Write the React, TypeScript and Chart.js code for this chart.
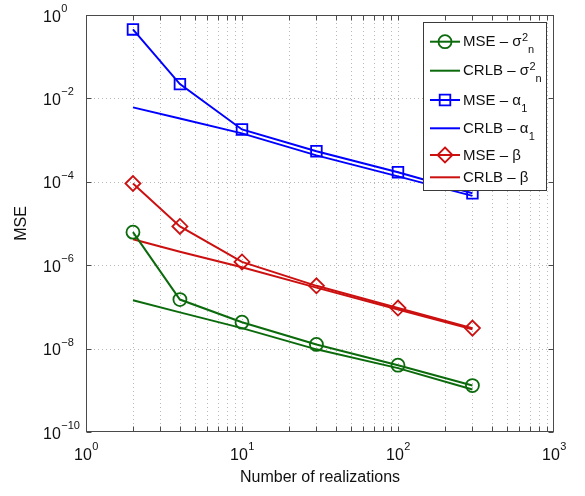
import React, { useEffect, useRef } from 'react';
import { Chart, registerables } from 'chart.js';

Chart.register(...registerables);

// ---- data ----
const realizations = [2, 4, 10, 30, 100, 300];
const mseSigma = [6.2e-6, 1.5e-7, 4.3e-8, 1.26e-8, 4.0e-9, 1.3e-9];
const crlbSigma = [1.45e-7, 7.4e-8, 3.1e-8, 9.6e-9, 3.4e-9, 1.05e-9];
const mseAlpha = [0.45, 2.2e-2, 1.8e-3, 5.4e-4, 1.7e-4, 5.3e-5];
const crlbAlpha = [6.1e-3, 3.3e-3, 1.45e-3, 4.3e-4, 1.35e-4, 4.6e-5];
const mseBeta = [9.1e-5, 8.5e-6, 1.2e-6, 3.2e-7, 9.4e-8, 3.1e-8];
const crlbBeta = [4.2e-6, 2.1e-6, 8.9e-7, 2.9e-7, 8.7e-8, 2.9e-8];

const xTickExponents = [0, 1, 2, 3];
const yTickExponents = [0, -2, -4, -6, -8, -10];
const xTitle = 'Number of realizations';
const yTitle = 'MSE';

const legendBase = ['MSE – σ', 'CRLB – σ', 'MSE – α', 'CRLB – α', 'MSE – β', 'CRLB – β'];
const legendSup = ['2', '2', '', '', '', ''];
const legendSub = ['n', 'n', '1', '1', '', ''];

const GREEN = '#0b6a0b';
const BLUE = '#0000ff';
const RED = '#cc1010';
const FONT = '"Liberation Sans", Arial, Helvetica, sans-serif';

const seriesColors = [GREEN, GREEN, BLUE, BLUE, RED, RED];
const seriesMarkers = ['circle', '', 'rect', '', 'rectRot', ''];
const seriesValues = [mseSigma, crlbSigma, mseAlpha, crlbAlpha, mseBeta, crlbBeta];

function markerRadius(m: string) {
  if (m === 'circle') return 6.5;
  if (m === 'rect') return 7.5;
  if (m === 'rectRot') return 7.5;
  return 0;
}

function drawMarker(ctx: CanvasRenderingContext2D, m: string, x: number, y: number, color: string) {
  ctx.save();
  ctx.strokeStyle = color;
  ctx.lineWidth = 1.8;
  ctx.setLineDash([]);
  ctx.beginPath();
  if (m === 'circle') {
    ctx.arc(x, y, 6.5, 0, Math.PI * 2);
  } else if (m === 'rect') {
    const s = 7.5 * Math.SQRT1_2;
    ctx.rect(x - s, y - s, 2 * s, 2 * s);
  } else if (m === 'rectRot') {
    const r = 7.5;
    ctx.moveTo(x, y - r);
    ctx.lineTo(x + r, y);
    ctx.lineTo(x, y + r);
    ctx.lineTo(x - r, y);
    ctx.closePath();
  }
  ctx.stroke();
  ctx.restore();
}

function expText(e: number) {
  return e < 0 ? '\u2212' + Math.abs(e) : String(e);
}

const framePlugin = {
  id: 'matlabFrame',
  beforeDatasetsDraw(chart: any) {
    const { ctx, chartArea: a, scales } = chart;
    const xs = scales.x;
    const ys = scales.y;
    ctx.save();
    ctx.strokeStyle = '#b8b8b8';
    ctx.lineWidth = 1;
    ctx.setLineDash([1, 3]);
    const xe0 = xTickExponents[0];
    const xe1 = xTickExponents[xTickExponents.length - 1];
    for (let e = xe0; e < xe1; e++) {
      for (let m = 1; m <= 9; m++) {
        const px = Math.round(xs.getPixelForValue(m * Math.pow(10, e))) + 0.5;
        if (px <= a.left + 1 || px >= a.right - 1) continue;
        ctx.beginPath();
        ctx.moveTo(px, a.top);
        ctx.lineTo(px, a.bottom);
        ctx.stroke();
      }
    }
    for (const e of yTickExponents) {
      const py = Math.round(ys.getPixelForValue(Math.pow(10, e))) + 0.5;
      if (py <= a.top + 1 || py >= a.bottom - 1) continue;
      ctx.beginPath();
      ctx.moveTo(a.left, py);
      ctx.lineTo(a.right, py);
      ctx.stroke();
    }
    ctx.restore();
  },
  afterDraw(chart: any) {
    const { ctx, chartArea: a, scales } = chart;
    const xs = scales.x;
    const ys = scales.y;
    ctx.save();
    ctx.setLineDash([]);
    // frame
    ctx.strokeStyle = '#4a4a4a';
    ctx.lineWidth = 1;
    const L = Math.round(a.left) + 0.5;
    const R = Math.round(a.right) - 0.5;
    const T = Math.round(a.top) + 0.5;
    const B = Math.round(a.bottom) - 0.5;
    ctx.strokeRect(L, T, R - L, B - T);
    // ticks
    const tl = 5;
    const xe0 = xTickExponents[0];
    const xe1 = xTickExponents[xTickExponents.length - 1];
    ctx.beginPath();
    for (let e = xe0; e < xe1; e++) {
      for (let m = 1; m <= 9; m++) {
        const px = Math.round(xs.getPixelForValue(m * Math.pow(10, e))) + 0.5;
        ctx.moveTo(px, B);
        ctx.lineTo(px, B - tl);
        ctx.moveTo(px, T);
        ctx.lineTo(px, T + tl);
      }
    }
    for (const e of yTickExponents) {
      const py = Math.round(ys.getPixelForValue(Math.pow(10, e))) + 0.5;
      ctx.moveTo(L, py);
      ctx.lineTo(L + tl, py);
      ctx.moveTo(R, py);
      ctx.lineTo(R - tl, py);
    }
    ctx.stroke();

    // tick labels
    ctx.fillStyle = '#111';
    ctx.textBaseline = 'alphabetic';
    ctx.textAlign = 'left';
    const baseFont = '16px ' + FONT;
    const expFont = '11px ' + FONT;
    for (const e of xTickExponents) {
      const px = xs.getPixelForValue(Math.pow(10, e));
      ctx.font = baseFont;
      const wb = ctx.measureText('10').width;
      ctx.font = expFont;
      const ws = expText(e);
      const we = ctx.measureText(ws).width;
      const x0 = px - (wb + we) / 2;
      ctx.font = baseFont;
      ctx.fillText('10', x0, 460);
      ctx.font = expFont;
      ctx.fillText(ws, x0 + wb + 0.5, 450);
    }
    for (const e of yTickExponents) {
      const py = ys.getPixelForValue(Math.pow(10, e));
      ctx.font = baseFont;
      const wb = ctx.measureText('10').width;
      ctx.fillText('10', 43, py + 6.5);
      ctx.font = expFont;
      ctx.fillText(expText(e), 43 + wb + 0.5, py - 3);
    }

    // axis titles
    ctx.font = '16px ' + FONT;
    ctx.textAlign = 'center';
    ctx.textBaseline = 'middle';
    ctx.fillText(xTitle, (a.left + a.right) / 2, 478);
    ctx.save();
    ctx.translate(22, (a.top + a.bottom) / 2);
    ctx.rotate(-Math.PI / 2);
    ctx.fillText(yTitle, 0, 0);
    ctx.restore();

    // legend
    const bx = 423.5, by = 22.5, bw = 123, bh = 168;
    ctx.fillStyle = '#ffffff';
    ctx.fillRect(bx, by, bw, bh);
    ctx.strokeStyle = '#3a3a3a';
    ctx.lineWidth = 1;
    ctx.strokeRect(bx, by, bw, bh);
    const rowY = [41.7, 70.7, 100, 128.3, 155, 177.3];
    for (let i = 0; i < legendBase.length; i++) {
      const y = rowY[i];
      const c = seriesColors[i];
      ctx.strokeStyle = c;
      ctx.lineWidth = 2;
      ctx.beginPath();
      ctx.moveTo(430, y);
      ctx.lineTo(460, y);
      ctx.stroke();
      if (seriesMarkers[i]) drawMarker(ctx, seriesMarkers[i], 445, y, c);
      ctx.fillStyle = '#111';
      ctx.textAlign = 'left';
      ctx.textBaseline = 'alphabetic';
      ctx.font = '15px ' + FONT;
      const base = legendBase[i];
      const tx = 463;
      ctx.fillText(base, tx, y + 4.5);
      let cx = tx + ctx.measureText(base).width + 0.5;
      ctx.font = '11px ' + FONT;
      if (legendSup[i]) {
        ctx.fillText(legendSup[i], cx, y - 0.5);
        cx += ctx.measureText(legendSup[i]).width;
      }
      if (legendSub[i]) {
        ctx.fillText(legendSub[i], cx, y + 11.5);
      }
    }
    ctx.restore();
  },
};

export default function App() {
  const ref = useRef<HTMLCanvasElement | null>(null);
  useEffect(() => {
    if (!ref.current) return;
    const datasets = seriesValues.map((vals, i) => {
      const m = seriesMarkers[i];
      return {
        label: legendBase[i] + legendSub[i] + legendSup[i],
        data: realizations.map((n, j) => ({ x: n, y: vals[j] })),
        borderColor: seriesColors[i],
        backgroundColor: 'rgba(0,0,0,0)',
        borderWidth: 2,
        pointStyle: m || 'circle',
        pointRadius: markerRadius(m),
        pointBorderWidth: 1.8,
        pointBorderColor: seriesColors[i],
        pointBackgroundColor: 'rgba(0,0,0,0)',
        fill: false,
        tension: 0,
      };
    });
    const chart = new Chart(ref.current, {
      type: 'line',
      data: { datasets },
      plugins: [framePlugin],
      options: {
        animation: false,
        responsive: false,
        devicePixelRatio: 1,
        events: [],
        layout: { padding: { top: 15, right: 31, left: 0, bottom: 0 } },
        plugins: {
          legend: { display: false },
          tooltip: { enabled: false },
          title: { display: false },
        },
        scales: {
          x: {
            type: 'logarithmic',
            min: 1,
            max: 1000,
            ticks: { display: false },
            grid: { display: false },
            border: { display: false },
            afterFit: (s: any) => {
              s.height = 64;
            },
          },
          y: {
            type: 'logarithmic',
            min: 1e-10,
            max: 1,
            ticks: { display: false },
            grid: { display: false },
            border: { display: false },
            afterFit: (s: any) => {
              s.width = 86;
            },
          },
        },
      } as any,
    });
    return () => chart.destroy();
  }, []);
  return (
    <div style={{ position: 'fixed', left: 0, top: 0, width: 585, height: 496, background: '#fff' }}>
      <canvas ref={ref} width={585} height={496} />
    </div>
  );
}
